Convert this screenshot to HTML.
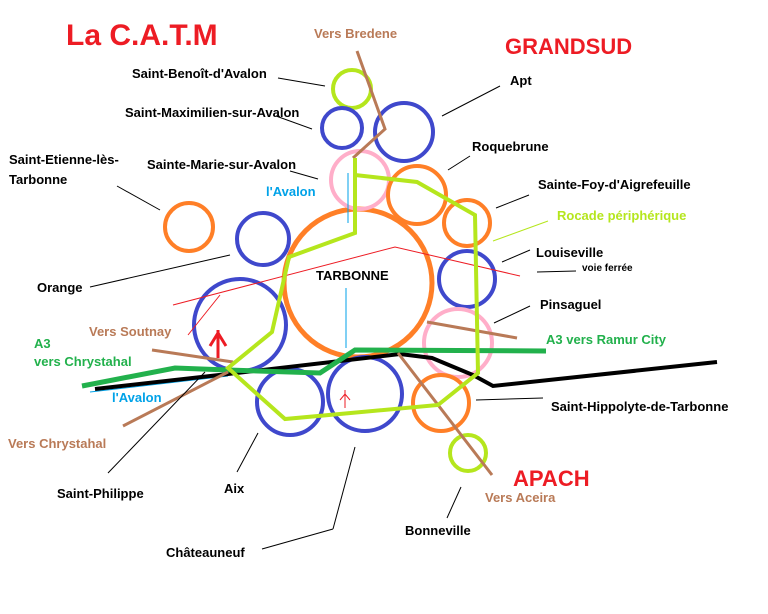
<!DOCTYPE html>
<html><head><meta charset="utf-8"><style>
html,body{margin:0;padding:0;background:#fff}
svg{display:block}
text{font-family:"Liberation Sans",Arial,sans-serif;font-weight:bold}
</style></head><body>
<svg width="768" height="614" viewBox="0 0 768 614" xmlns="http://www.w3.org/2000/svg">
<rect width="768" height="614" fill="#fff"/>
<g fill="none" stroke-width="4">
<circle cx="358" cy="283" r="74" stroke="#ff7f27" stroke-width="5"/>
<circle cx="352" cy="89" r="19" stroke="#b5e61d"/>
<circle cx="342" cy="128" r="20" stroke="#3f48cc"/>
<circle cx="404" cy="132" r="29" stroke="#3f48cc"/>
<circle cx="360" cy="180" r="29" stroke="#ffaec9"/>
<circle cx="417" cy="195" r="29" stroke="#ff7f27"/>
<circle cx="467" cy="223" r="23" stroke="#ff7f27"/>
<circle cx="467" cy="279" r="28" stroke="#3f48cc"/>
<circle cx="458" cy="343" r="34" stroke="#ffaec9"/>
<circle cx="441" cy="403" r="28" stroke="#ff7f27"/>
<circle cx="468" cy="453" r="18" stroke="#b5e61d"/>
<circle cx="365" cy="394" r="37" stroke="#3f48cc"/>
<circle cx="290" cy="402" r="33" stroke="#3f48cc"/>
<circle cx="240" cy="325" r="46" stroke="#3f48cc"/>
<circle cx="263" cy="239" r="26" stroke="#3f48cc"/>
<circle cx="189" cy="227" r="24" stroke="#ff7f27"/>
</g>
<g fill="none" stroke="#ed1c24" stroke-width="1">
<polyline points="173,305 395,247 520,276"/>
<line x1="220" y1="295" x2="188" y2="335"/>
<line x1="345" y1="390" x2="345" y2="408"/>
<polyline points="340,400 345,394 350,400"/>
</g>
<g fill="none" stroke="#ed1c24" stroke-width="3">
<line x1="218" y1="330" x2="218" y2="358"/>
<polyline points="210,346 218,333 226,346"/>
</g>
<g fill="none" stroke="#00a2e8" stroke-width="1">
<line x1="346" y1="288" x2="346" y2="348"/>
<line x1="348" y1="173" x2="348" y2="223"/>
<line x1="90" y1="392" x2="228" y2="376"/>
</g>
<g fill="none" stroke="#000" stroke-width="4">
<polyline points="95,389 228,374 400,354 432,358 473,375 493,386 717,362"/>
</g>
<g fill="none" stroke="#22b14c" stroke-width="5">
<polyline points="82,386 175,368 228,370 320,373 355,350 546,351"/>
</g>
<g fill="none" stroke="#b97a57" stroke-width="3">
<polyline points="357,51 385,129 353,158"/>
<line x1="398" y1="353" x2="492" y2="475"/>
<line x1="427" y1="322" x2="517" y2="338"/>
<line x1="152" y1="350" x2="233" y2="362"/>
<line x1="123" y1="426" x2="228" y2="372"/>
</g>
<polyline fill="none" stroke="#b5e61d" stroke-width="4" points="355,158 355,233 289,257 272,332 228,368 285,419 438,405 478,373 475,215 417,182 355,175"/>
<g stroke="#000" stroke-width="1">
<line x1="278" y1="78" x2="325" y2="86"/>
<line x1="276" y1="116" x2="312" y2="129"/>
<line x1="290" y1="171" x2="318" y2="179"/>
<line x1="117" y1="186" x2="160" y2="210"/>
<line x1="90" y1="287" x2="230" y2="255"/>
<line x1="500" y1="86" x2="442" y2="116"/>
<line x1="470" y1="156" x2="448" y2="170"/>
<line x1="529" y1="195" x2="496" y2="208"/>
<line x1="530" y1="250" x2="502" y2="262"/>
<line x1="537" y1="272" x2="576" y2="271"/>
<line x1="530" y1="306" x2="494" y2="323"/>
<line x1="476" y1="400" x2="543" y2="398"/>
<line x1="108" y1="473" x2="205" y2="372"/>
<line x1="237" y1="472" x2="258" y2="433"/>
<line x1="262" y1="549" x2="333" y2="529"/>
<line x1="333" y1="529" x2="355" y2="447"/>
<line x1="447" y1="518" x2="461" y2="487"/>
</g>
<line x1="493" y1="241" x2="548" y2="221" stroke="#b5e61d" stroke-width="1"/>
<g font-size="13" fill="#000">
<text x="132" y="78">Saint-Benoît-d'Avalon</text>
<text x="125" y="117">Saint-Maximilien-sur-Avalon</text>
<text x="147" y="169">Sainte-Marie-sur-Avalon</text>
<text x="9" y="164">Saint-Etienne-lès-</text>
<text x="9" y="184">Tarbonne</text>
<text x="37" y="292">Orange</text>
<text x="510" y="85">Apt</text>
<text x="472" y="151">Roquebrune</text>
<text x="538" y="189">Sainte-Foy-d'Aigrefeuille</text>
<text x="536" y="257">Louiseville</text>
<text x="540" y="309">Pinsaguel</text>
<text x="551" y="411">Saint-Hippolyte-de-Tarbonne</text>
<text x="316" y="280">TARBONNE</text>
<text x="57" y="498">Saint-Philippe</text>
<text x="224" y="493">Aix</text>
<text x="166" y="557">Châteauneuf</text>
<text x="405" y="535">Bonneville</text>
<text x="582" y="271" font-size="10">voie ferrée</text>
</g>
<g font-size="13">
<text x="314" y="38" fill="#b97a57">Vers Bredene</text>
<text x="89" y="336" fill="#b97a57">Vers Soutnay</text>
<text x="8" y="448" fill="#b97a57">Vers Chrystahal</text>
<text x="485" y="502" fill="#b97a57">Vers Aceira</text>
<text x="557" y="220" fill="#b5e61d">Rocade périphérique</text>
<text x="546" y="344" fill="#22b14c">A3 vers Ramur City</text>
<text x="34" y="348" fill="#22b14c">A3</text>
<text x="34" y="366" fill="#22b14c">vers Chrystahal</text>
<text x="266" y="196" fill="#00a2e8">l'Avalon</text>
<text x="112" y="402" fill="#00a2e8">l'Avalon</text>
</g>
<text x="66" y="45" font-size="30" fill="#ed1c24">La C.A.T.M</text>
<text x="505" y="54" font-size="22" fill="#ed1c24">GRANDSUD</text>
<text x="513" y="486" font-size="22" fill="#ed1c24">APACH</text>
</svg>
</body></html>
